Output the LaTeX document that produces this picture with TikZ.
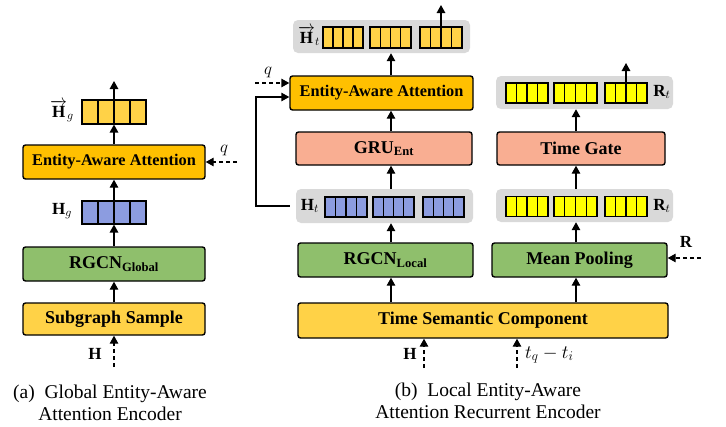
\documentclass[tikz,border=0pt]{standalone}
\usepackage{fix-cm}
\usepackage{amsmath}
\usepackage{fontspec}
\setmainfont{Liberation Serif}
\usetikzlibrary{arrows.meta,calc}

\definecolor{attn}{HTML}{FFC000}
\definecolor{sample}{HTML}{FFD247}
\definecolor{gcn}{HTML}{8FBF6C}
\definecolor{rnn}{HTML}{F9AE92}
\definecolor{embblue}{HTML}{8C9CE0}
\definecolor{embylw}{HTML}{FFD247}
\definecolor{relylw}{HTML}{FFFF00}
\definecolor{grpgray}{HTML}{D9D9D9}

\begin{document}
\begin{tikzpicture}[x=1pt,y=-1pt,
  blk/.style={draw, line width=1.4pt, rounded corners=2.5pt, inner sep=0pt,
    font=\fontsize{18}{20}\selectfont\bfseries},
  attnblk/.style={blk, fill=attn, font=\fontsize{16.3}{18}\selectfont\bfseries},
  grp/.style={fill=grpgray, rounded corners=5pt, inner sep=0pt},
  vec/.style={draw, line width=1.1pt, inner sep=0pt,
    path picture={\foreach \k in {1,2,3}{
      \draw[line width=1.1pt]
        ($(path picture bounding box.south west)!\k/4!(path picture bounding box.south east)$) --
        ($(path picture bounding box.north west)!\k/4!(path picture bounding box.north east)$);}}},
  arr/.style={line width=1.4pt, -{Triangle[length=8pt,width=8.5pt]}},
  darr/.style={arr, dash pattern=on 4pt off 3pt},
  lbl/.style={font=\fontsize{17}{19}\selectfont, inner sep=0pt},
  captext/.style={font=\fontsize{19.5}{22}\selectfont, align=center, inner sep=0pt}]
\useasboundingbox (0,0) rectangle (726,426);

% ---------- (a) global encoder ----------
\node[vec, fill=embylw, minimum width=64pt, minimum height=24pt] (vgTop) at (114,112) {};
\node[attnblk, minimum width=182pt, minimum height=34pt] (eaaL) at (114,162) {Entity-Aware Attention};
\node[vec, fill=embblue, minimum width=64pt, minimum height=23pt] (vgBot) at (114,212.5) {};
\node[blk, fill=gcn, minimum width=182pt, minimum height=34pt] (rgcnG) at (114,264) {RGCN\textsubscript{Global}};
\node[blk, fill=sample, minimum width=182pt, minimum height=32pt] (subS) at (114,319) {Subgraph Sample};

\node[lbl] (lHgArr) at (62,111) {$\overrightarrow{\mathbf{H}}_{g}$};
\node[lbl] (lHg) at (62,211) {$\mathbf{H}_{g}$};
\node[lbl] (lqL) at (224,150) {$q$};
\node[lbl] (lHL) at (95,354) {$\mathbf{H}$};

\coordinate (outL) at (114,81);
\coordinate (qLs) at (237,162);
\coordinate (HLs) at (114,367);

\draw[arr] (vgTop.center) -- (outL);
\draw[arr] (eaaL.north) -- (vgTop.south);
\draw[arr] (vgBot.north) -- (eaaL.south);
\draw[arr] (rgcnG.north) -- (vgBot.south);
\draw[arr] (subS.north) -- (rgcnG.south);
\draw[darr] (HLs) -- (subS.south);
\draw[darr] (qLs) -- (eaaL.east);

\node[captext] (capA) at (110,403) {(a)\ \ Global Entity-Aware\\Attention Encoder};

% ---------- (b) local recurrent encoder ----------
\coordinate (c1) at (391,0);
\coordinate (c2) at (576,0);

% entity column
\node[grp, minimum width=177pt, minimum height=33pt] (htTopGrp) at (381.5,36.5) {};
\node[vec, fill=embylw, minimum width=40pt, minimum height=21pt] (htA1) at (343,37.5) {};
\node[vec, fill=embylw, minimum width=41pt, minimum height=21pt] (htA2) at (390.5,37.5) {};
\node[vec, fill=embylw, minimum width=42pt, minimum height=21pt] (htA3) at (441,37.5) {};
\node[lbl] (lHtArr) at (309,36) {$\overrightarrow{\mathbf{H}}_{t}$};

\node[attnblk, minimum width=183pt, minimum height=34pt] (eaaR) at (381.5,93) {Entity-Aware Attention};
\node[blk, fill=rnn, minimum width=176pt, minimum height=33pt] (gru) at (384,148.5) {GRU\textsubscript{Ent}};

\node[grp, minimum width=177pt, minimum height=34pt] (htGrp) at (384.5,206) {};
\node[vec, fill=embblue, minimum width=42pt, minimum height=20pt] (ht1) at (346,207) {};
\node[vec, fill=embblue, minimum width=41pt, minimum height=20pt] (ht2) at (393.5,207) {};
\node[vec, fill=embblue, minimum width=41pt, minimum height=20pt] (ht3) at (443.5,207) {};
\node[lbl] (lHt) at (310,206) {$\mathbf{H}_{t}$};

\node[blk, fill=gcn, minimum width=175pt, minimum height=34pt] (rgcnL) at (385.5,260) {RGCN\textsubscript{Local}};

% relation column
\node[grp, minimum width=177pt, minimum height=33pt] (rtTopGrp) at (584.5,92.5) {};
\node[vec, fill=relylw, minimum width=42pt, minimum height=20pt] (rtA1) at (527,93) {};
\node[vec, fill=relylw, minimum width=43pt, minimum height=20pt] (rtA2) at (575.5,93) {};
\node[vec, fill=relylw, minimum width=42pt, minimum height=20pt] (rtA3) at (626,93) {};
\node[lbl] (lRtTop) at (662,92) {$\mathbf{R}_{t}$};

\node[blk, fill=rnn, minimum width=168pt, minimum height=33pt] (tgate) at (581,148.5) {Time Gate};

\node[grp, minimum width=177pt, minimum height=33pt] (rtGrp) at (584.5,205.5) {};
\node[vec, fill=relylw, minimum width=42pt, minimum height=20pt] (rt1) at (527,206.5) {};
\node[vec, fill=relylw, minimum width=43pt, minimum height=20pt] (rt2) at (575.5,206.5) {};
\node[vec, fill=relylw, minimum width=42pt, minimum height=20pt] (rt3) at (626,206.5) {};
\node[lbl] (lRt) at (662,206) {$\mathbf{R}_{t}$};

\node[blk, fill=gcn, minimum width=175pt, minimum height=34pt] (meanP) at (579.5,260) {Mean Pooling};

\node[blk, fill=sample, minimum width=370pt, minimum height=35pt] (tsc) at (483,320.5) {Time Semantic Component};

\node[lbl] (lqR) at (268,72) {$q$};
\node[lbl] (lR) at (686,242) {$\mathbf{R}$};
\node[lbl] (lHR) at (410,354) {$\mathbf{H}$};
\node[lbl, anchor=west, font=\fontsize{19}{21}\selectfont] (lt) at (525,355) {$t_q - t_i$};

\coordinate (outR) at (441,5);
\coordinate (outRt) at (626,63);
\coordinate (qRs) at (255,83);
\coordinate (fbk) at (256,97);
\coordinate (Rs) at (701,258);
\coordinate (HRs) at (424,368);
\coordinate (tRs) at (517,368);

% entity column connectors
\draw[arr] (htA3.center) -- (outR);
\draw[arr] (eaaR.north -| c1) -- (htTopGrp.south -| c1);
\draw[arr] (gru.north -| c1) -- (eaaR.south -| c1);
\draw[arr] (htGrp.north -| c1) -- (gru.south -| c1);
\draw[arr] (rgcnL.north -| c1) -- (htGrp.south -| c1);
\draw[arr] (tsc.north -| c1) -- (rgcnL.south -| c1);
\draw[arr] ([xshift=-6pt]htGrp.west) -| (fbk) -- (eaaR.west |- fbk);
\draw[darr] (qRs) -- (eaaR.west |- qRs);

% relation column connectors
\draw[arr] (rtA3.center) -- (outRt);
\draw[arr] (tgate.north -| c2) -- (rtTopGrp.south -| c2);
\draw[arr] (rtGrp.north -| c2) -- (tgate.south -| c2);
\draw[arr] (meanP.north -| c2) -- (rtGrp.south -| c2);
\draw[arr] (tsc.north -| c2) -- (meanP.south -| c2);
\draw[darr] (Rs) -- (meanP.east |- Rs);

% inputs
\draw[darr] (HRs) -- (tsc.south -| HRs);
\draw[darr] (tRs) -- (tsc.south -| tRs);

\node[captext] (capB) at (488,401) {(b)\ \ Local Entity-Aware\\Attention Recurrent Encoder};
\end{tikzpicture}
\end{document}
